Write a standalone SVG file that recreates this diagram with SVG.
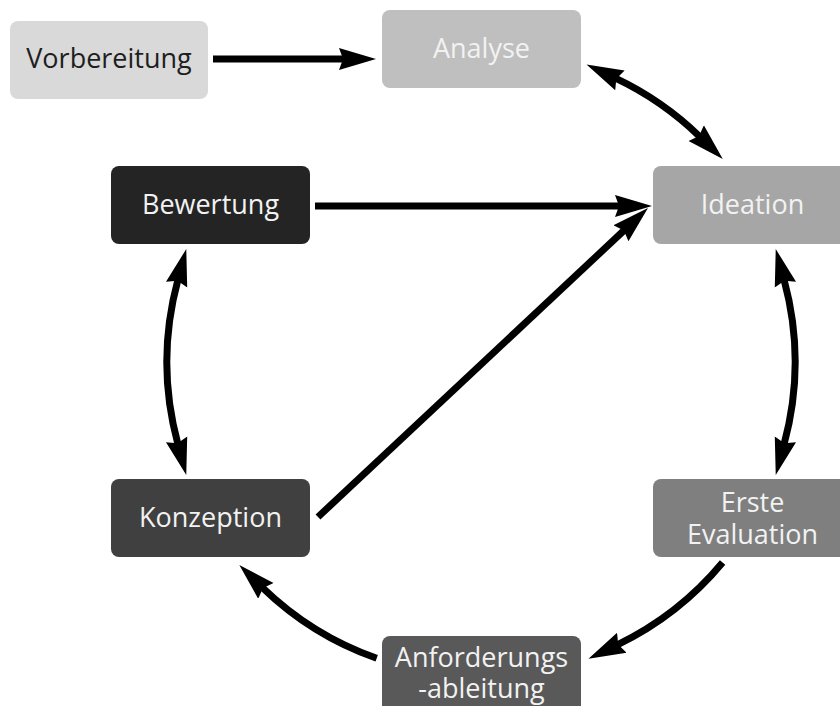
<svg xmlns="http://www.w3.org/2000/svg" width="840" height="706" viewBox="0 0 840 706">
  <defs>
    <style>
      .box { stroke: none; }
      .lbl { font-family: "Open Sans", "Noto Sans", "DejaVu Sans", sans-serif; font-size: 27px; text-anchor: middle; fill: #f2f2f2; }
      .dark { fill: #1e1e1e; }
      .edge { fill: none; stroke: #000; stroke-width: 7; }
    </style>
    <marker id="head" markerUnits="userSpaceOnUse" markerWidth="40" markerHeight="24" viewBox="0 -12 40 24" refX="5" refY="0" orient="auto-start-reverse">
      <path d="M0,-11 L37,0 L0,11 L4,0 Z" fill="#000"/>
    </marker>
  </defs>

  <rect width="840" height="706" fill="#fff"/>

  <!-- connectors: the cycle arcs share one circle, centre (481,362), radius 314 -->
  <g id="connectors">
    <path class="edge" d="M213,59 H344" marker-end="url(#head)"/>
    <path class="edge" d="M615.4,78.2 A314,314 0 0 1 699.8,136.7" marker-start="url(#head)" marker-end="url(#head)"/>
    <path class="edge" d="M784.1,279.9 A314,314 0 0 1 784.1,444.1" marker-start="url(#head)" marker-end="url(#head)"/>
    <path class="edge" d="M722.6,562.6 A314,314 0 0 1 617.3,644.9" marker-end="url(#head)"/>
    <path class="edge" d="M376.7,658.2 A314,314 0 0 1 262.3,587.4" marker-end="url(#head)"/>
    <path class="edge" d="M177.9,444.1 A314,314 0 0 1 177.9,279.9" marker-start="url(#head)" marker-end="url(#head)"/>
    <path class="edge" d="M315,206 H620" marker-end="url(#head)"/>
    <path class="edge" d="M318,517 L624.6,229.9" marker-end="url(#head)"/>
  </g>

  <g id="vorbereitung">
    <rect class="box" x="10" y="21" width="198" height="78" rx="8" fill="#d9d9d9"/>
    <text class="lbl dark" x="109" y="68">Vorbereitung</text>
  </g>
  <g id="analyse">
    <rect class="box" x="382" y="10" width="199" height="78" rx="8" fill="#bfbfbf"/>
    <text class="lbl" x="481.5" y="58">Analyse</text>
  </g>
  <g id="ideation">
    <rect class="box" x="653" y="166" width="199" height="78" rx="8" fill="#a6a6a6"/>
    <text class="lbl" x="752.5" y="214">Ideation</text>
  </g>
  <g id="bewertung">
    <rect class="box" x="111" y="166" width="199" height="78" rx="8" fill="#242424"/>
    <text class="lbl" x="210.5" y="214">Bewertung</text>
  </g>
  <g id="konzeption">
    <rect class="box" x="111" y="479" width="199" height="78" rx="8" fill="#404040"/>
    <text class="lbl" x="210.5" y="527">Konzeption</text>
  </g>
  <g id="erste-evaluation">
    <rect class="box" x="653" y="479" width="199" height="78" rx="8" fill="#7f7f7f"/>
    <text class="lbl" x="752.5" y="512">Erste</text>
    <text class="lbl" x="752.5" y="544">Evaluation</text>
  </g>
  <g id="anforderungsableitung">
    <rect class="box" x="382" y="636" width="199" height="78" rx="8" fill="#595959"/>
    <text class="lbl" x="481.5" y="667">Anforderungs</text>
    <text class="lbl" x="481.5" y="698">-ableitung</text>
  </g>
</svg>
